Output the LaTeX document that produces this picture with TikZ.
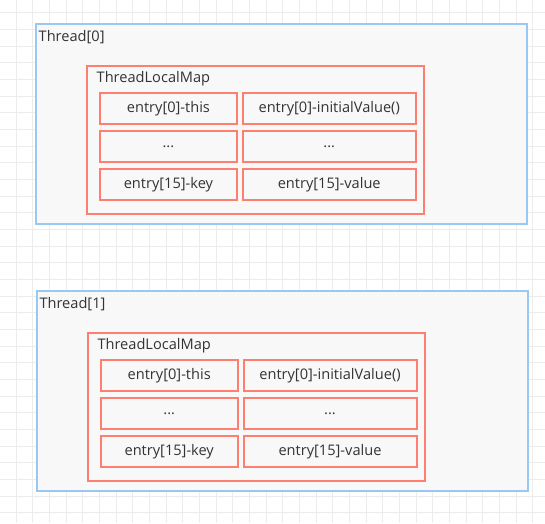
\documentclass[tikz,border=0pt]{standalone}
\usepackage{fontspec}
\setmainfont{Open Sans}
\usetikzlibrary{positioning}

\definecolor{threadblue}{HTML}{99C9F2}
\definecolor{mapred}{HTML}{FF7E72}
\definecolor{boxfill}{HTML}{F8F8F8}
\definecolor{gridgray}{HTML}{ECECEC}
\definecolor{textgray}{HTML}{333333}

\tikzset{
  threadbox/.style={draw=threadblue, line width=2pt, fill=boxfill, anchor=north west,
    minimum width=491pt, minimum height=200pt, inner sep=0pt, outer sep=0pt},
  mapbox/.style={draw=mapred, line width=2pt, anchor=north west,
    minimum width=337pt, minimum height=148.6pt, inner sep=0pt, outer sep=0pt},
  entrybox/.style={draw=mapred, line width=2pt, minimum width=136.6pt, minimum height=31.7pt,
    inner sep=0pt, outer sep=0pt, text=textgray, font=\fontsize{14.6}{16}\selectfont},
  valuebox/.style={entrybox, minimum width=173pt},
  caption/.style={anchor=west, inner sep=0pt, text=textgray, font=\fontsize{14.6}{16}\selectfont},
}

\begin{document}
\begin{tikzpicture}[x=1pt, y=-1pt]
    \useasboundingbox (0,0) rectangle (545,523);
    % 背景网格
    \foreach \gx in {16,32.67,...,545} \draw[gridgray, line width=0.6pt] (\gx,0) -- (\gx,523);
    \foreach \gy in {12.6,29.27,...,523} \draw[gridgray, line width=0.6pt] (0,\gy) -- (545,\gy);
    % 两个线程
    \foreach \t/\dx/\dy in {0/0/0, 1/0.8/267} {
      \begin{scope}[shift={(\dx,\dy)}]
        \node[threadbox] (thread\t) at (36,24.3) {};
        \node[caption] (threadname\t) at (38.5,37.5) {Thread[\t]};
        % ThreadLocalMap
        \node[mapbox] (map\t) at (87.3,65.7) {};
        \node[caption] (mapname\t) at (96.5,79) {ThreadLocalMap};
        % entry 数组
        \node[entrybox] (keyfirst\t) at (168.4,108.5) {entry[0]-this};
        \node[valuebox] (valfirst\t) at (329.2,108.5) {entry[0]-initialValue()};
        \node[entrybox] (keydots\t) at (168.4,146.5) {...};
        \node[valuebox] (valdots\t) at (329.2,146.5) {...};
        \node[entrybox] (keylast\t) at (168.4,184.4) {entry[15]-key};
        \node[valuebox] (vallast\t) at (329.2,184.4) {entry[15]-value};
      \end{scope}
    }
\end{tikzpicture}
\end{document}
